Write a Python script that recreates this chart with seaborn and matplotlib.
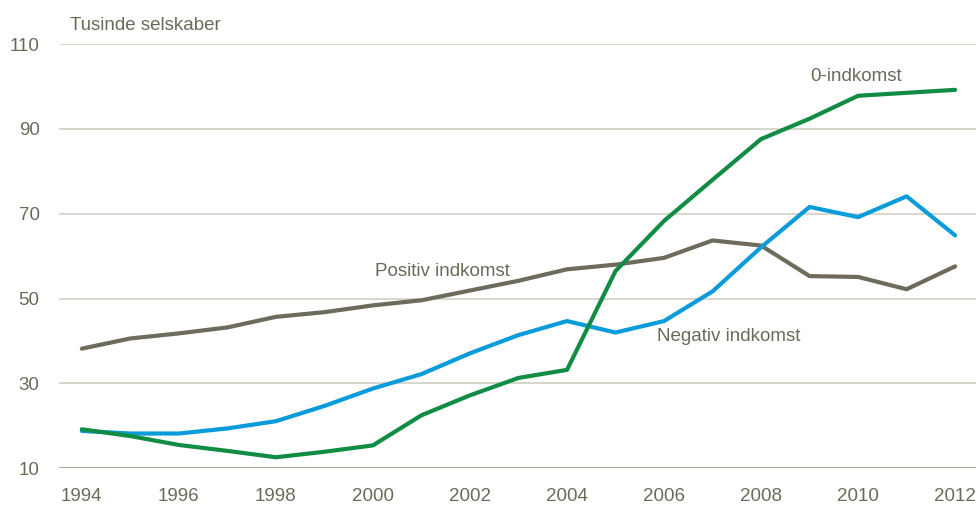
import matplotlib
matplotlib.use("Agg")
import matplotlib.pyplot as plt
import seaborn as sns
import pandas as pd

years = list(range(1994, 2013))

positiv = [38.2, 40.6, 41.8, 43.2, 45.7, 46.8, 48.4, 49.6, 51.9, 54.2,
           56.9, 58.0, 59.6, 63.7, 62.5, 55.3, 55.1, 52.2, 57.6]
negativ = [18.8, 18.2, 18.2, 19.4, 21.1, 24.7, 28.8, 32.2, 37.1, 41.4,
           44.7, 42.0, 44.7, 51.7, 62.1, 71.6, 69.2, 74.1, 64.9]
nul = [19.2, 17.6, 15.5, 14.1, 12.6, 13.9, 15.4, 22.5, 27.2, 31.3,
       33.2, 56.5, 68.3, 78.0, 87.6, 92.4, 97.8, 98.5, 99.2]

series_names = ["Positiv indkomst", "Negativ indkomst", "0-indkomst"]
yticks = [10, 30, 50, 70, 90, 110]
xticks = list(range(1994, 2013, 2))
unit_label = "Tusinde selskaber"

colors = {"Positiv indkomst": "#6e6b5d",
          "Negativ indkomst": "#0a9bdb",
          "0-indkomst": "#118c45"}
text_color = "#6b6a5a"
fs = 13.5

df = pd.DataFrame({
    "year": years * 3,
    "value": positiv + negativ + nul,
    "series": [series_names[0]] * len(years)
              + [series_names[1]] * len(years)
              + [series_names[2]] * len(years),
})

sns.set_theme(style="white")
plt.rcParams["font.family"] = ["Liberation Sans", "DejaVu Sans"]

fig = plt.figure(figsize=(9.76, 5.24), dpi=100)
ax = fig.add_axes([0.0605, 0.1063, 0.9395, 0.8097])

for y in yticks[1:]:
    ax.axhline(y, color="#cfcfc4", lw=1.2, zorder=0)
ax.axhline(10, color="#a9a898", lw=1.4, zorder=0)

sns.lineplot(data=df, x="year", y="value", hue="series", palette=colors,
             hue_order=series_names, linewidth=3.0, legend=False, ax=ax,
             solid_capstyle="round")

ax.set_xlim(1993.53, 2012.43)
ax.set_ylim(10, 110)
ax.set_xticks(xticks)
ax.set_yticks(yticks)
ax.tick_params(axis="both", length=0, labelsize=fs, colors=text_color)
ax.tick_params(axis="x", pad=14)
ax.tick_params(axis="y", pad=14)
ax.set_xlabel("")
ax.set_ylabel("")
for s in ax.spines.values():
    s.set_visible(False)

fig.text(70 / 976, 1 - 25 / 524, unit_label, fontsize=fs, color=text_color,
         ha="left", va="center")

ax.text(2009.01, 102.3, "0-indkomst", fontsize=fs, color=text_color,
        ha="left", va="center")
ax.text(2000.04, 56.3, "Positiv indkomst", fontsize=fs, color=text_color,
        ha="left", va="center")
ax.text(2005.86, 41.0, "Negativ indkomst", fontsize=fs, color=text_color,
        ha="left", va="center")

fig.savefig("out.png", dpi=100, facecolor="white")
